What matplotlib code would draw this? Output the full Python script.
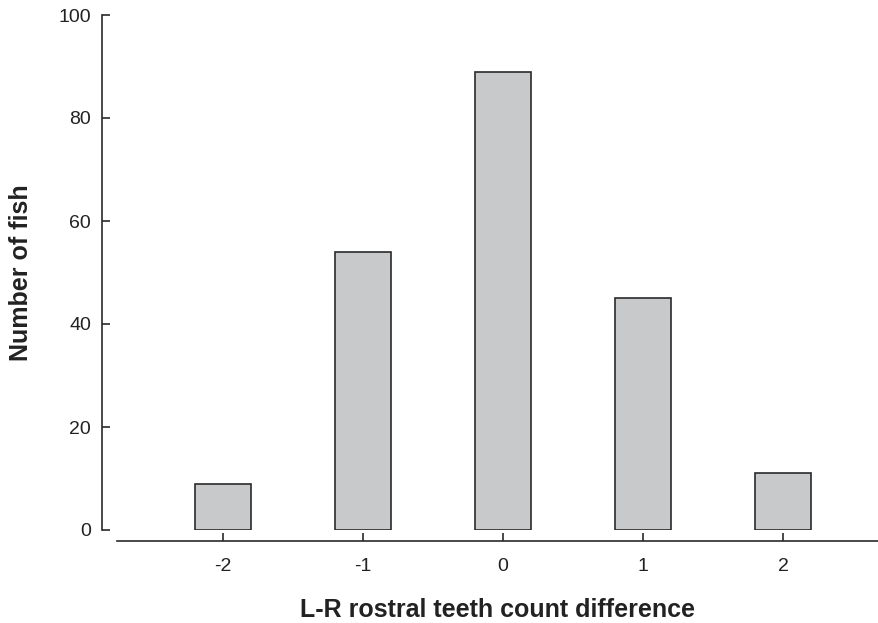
import matplotlib
matplotlib.use("Agg")
import matplotlib.pyplot as plt

plt.rcParams['font.family'] = ['Liberation Sans', 'DejaVu Sans']

diffs = [-2, -1, 0, 1, 2]
n_fish = [9, 54, 89, 45, 11]
y_ticks = [0, 20, 40, 60, 80, 100]

W, H = 879, 623
fig = plt.figure(figsize=(W / 100, H / 100), dpi=100)
ax = fig.add_axes([117 / W, (H - 530) / H, (W - 117) / W, (530 - 15) / H])

ax.bar(diffs, n_fish, width=0.4, color='#c8c9cb', edgecolor='#2a2a2a', linewidth=1.2)

ax.set_xlim(-2.757, 2.686)
ax.set_ylim(0, 100)
ax.set_xticks(diffs)
ax.set_xticklabels([str(d) for d in diffs])
ax.set_yticks(y_ticks)

ax.spines['top'].set_visible(False)
ax.spines['right'].set_visible(False)
ax.spines['left'].set_position(('outward', 15 * 0.72))
ax.spines['bottom'].set_position(('outward', 11 * 0.72))
for s in ['left', 'bottom']:
    ax.spines[s].set_linewidth(1.2)
    ax.spines[s].set_color('#2a2a2a')

ax.tick_params(axis='both', direction='in', length=5.5, width=1.2, color='#2a2a2a',
               labelsize=14, labelcolor='#222222')
ax.tick_params(axis='y', pad=8)
ax.tick_params(axis='x', pad=12)

ax.set_ylabel('Number of fish', fontsize=18, fontweight='bold', color='#222222', labelpad=18)
ax.set_xlabel('L-R rostral teeth count difference', fontsize=18, fontweight='bold',
              color='#222222', labelpad=17)

fig.savefig('out.png', dpi=100)
